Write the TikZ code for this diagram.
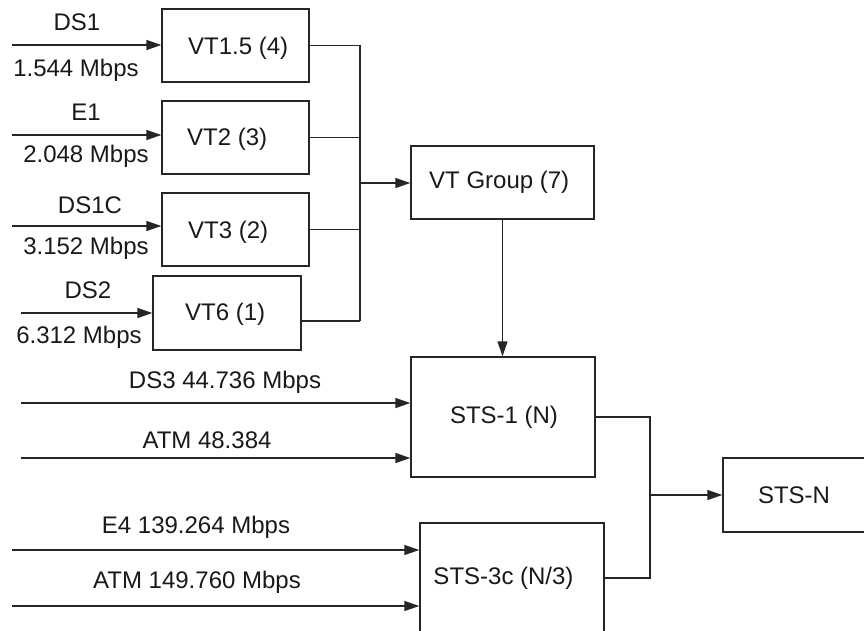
\documentclass[tikz,border=0pt]{standalone}
\usepackage{fontspec}
\setmainfont{Liberation Sans}
\usetikzlibrary{arrows.meta}
\begin{document}
\begin{tikzpicture}[x=1pt,y=-1pt,
  box/.style={draw=black!85,line width=1.4pt,rectangle,inner sep=0pt},
  lbl/.style={inner sep=0pt,font=\fontsize{24}{28}\selectfont,text=black!90},
  conn/.style={draw=black!85,line width=1.4pt},
  arr/.style={conn,-{Triangle[length=15pt,width=10pt]}}]
\useasboundingbox (0,0) rectangle (864,630);
\clip (0,0) rectangle (864,630);
% boxes
\node[box,minimum width=147pt,minimum height=73pt] (vt15) at (235.5,45.5) {};
\node[box,minimum width=147pt,minimum height=73pt] (vt2) at (235.5,137.5) {};
\node[box,minimum width=147pt,minimum height=73pt] (vt3) at (235.5,229.5) {};
\node[box,minimum width=148pt,minimum height=74pt] (vt6) at (227,313) {};
\node[box,minimum width=183pt,minimum height=73pt] (vtg) at (502.5,182.5) {};
\node[box,minimum width=184pt,minimum height=120pt] (sts1) at (503,417) {};
\node[box,minimum width=184pt,minimum height=137pt] (sts3) at (512,591.5) {};
\node[box,minimum width=147pt,minimum height=74pt] (stsn) at (796.5,495) {};
% box texts
\node[lbl,anchor=west] (tvt15) at (188,48) {VT1.5 (4)};
\node[lbl,anchor=west] (tvt2) at (187,139) {VT2 (3)};
\node[lbl,anchor=west] (tvt3) at (188,232) {VT3 (2)};
\node[lbl,anchor=west] (tvt6) at (185,314) {VT6 (1)};
\node[lbl,anchor=west] (tvtg) at (429,182) {VT Group (7)};
\node[lbl] (tsts1) at (504,417) {STS-1 (N)};
\node[lbl] (tsts3) at (503.5,578) {STS-3c (N/3)};
\node[lbl] (tstsn) at (794,495) {STS-N};
% input arrows
\coordinate (ids1) at (12,45);
\coordinate (ie1) at (12,135);
\coordinate (ids1c) at (12,226);
\coordinate (ids2) at (21,313);
\coordinate (ids3) at (21,403);
\coordinate (iatm1) at (21,458);
\coordinate (ie4) at (12,550);
\coordinate (iatm2) at (12,606);
\draw[arr] (ids1) -- (ids1 -| vt15.west);
\draw[arr] (ie1) -- (ie1 -| vt2.west);
\draw[arr] (ids1c) -- (ids1c -| vt3.west);
\draw[arr] (ids2) -- (ids2 -| vt6.west);
\draw[arr] (ids3) -- (ids3 -| sts1.west);
\draw[arr] (iatm1) -- (iatm1 -| sts1.west);
\draw[arr] (ie4) -- (ie4 -| sts3.west);
\draw[arr] (iatm2) -- (iatm2 -| sts3.west);
% input labels
\node[lbl] (lds1) at (77,22) {DS1};
\node[lbl] (rds1) at (76,70) {1.544 Mbps};
\node[lbl] (le1) at (86,112) {E1};
\node[lbl] (re1) at (86,156) {2.048 Mbps};
\node[lbl] (lds1c) at (90,205) {DS1C};
\node[lbl] (rds1c) at (86,248) {3.152 Mbps};
\node[lbl] (lds2) at (88,290) {DS2};
\node[lbl] (rds2) at (79,337) {6.312 Mbps};
\node[lbl] (lds3) at (225,382) {DS3 44.736 Mbps};
\node[lbl] (latm1) at (207,440) {ATM 48.384};
\node[lbl] (le4) at (196,527) {E4 139.264 Mbps};
\node[lbl] (latm2) at (197,582) {ATM 149.760 Mbps};
% VT bus
\coordinate (bbot) at (360,321);
\coordinate (bmid) at (360,183);
\draw[conn] (vt15.east) -| (bbot);
\draw[conn] (vt2.east) -- (vt2.east -| bbot);
\draw[conn] (vt3.east) -- (vt3.east -| bbot);
\draw[conn] (vt6.east |- bbot) -- (bbot);
\draw[arr] (bmid) -- (bmid -| vtg.west);
% VT group to STS-1
\draw[arr] (vtg.south) -- (vtg.south |- sts1.north);
% STS bus
\coordinate (jb) at (650,578);
\coordinate (jm) at (650,495);
\draw[conn] (sts1.east) -| (jb) -- (jb -| sts3.east);
\draw[arr] (jm) -- (jm -| stsn.west);
\end{tikzpicture}
\end{document}
